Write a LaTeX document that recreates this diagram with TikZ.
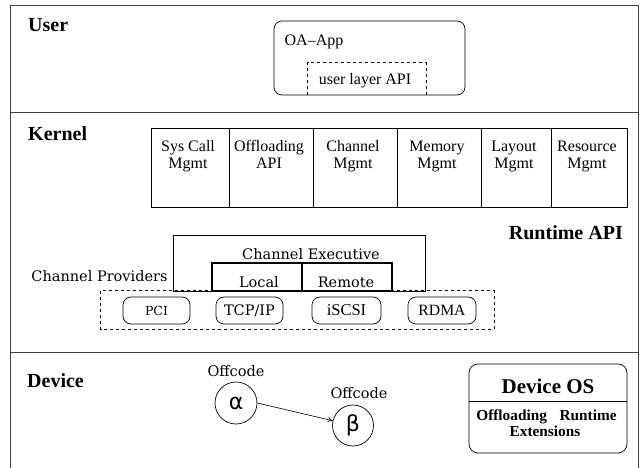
\documentclass[tikz,border=0pt]{standalone}
\usepackage{fontspec}
\setmainfont{Liberation Serif}
\newfontfamily\dvserif{DejaVu Serif}
\newfontfamily\dvsans{DejaVu Sans}
\usetikzlibrary{arrows.meta,calc}
\newcommand\fsz[1]{\fontsize{#1}{#1}\selectfont}
\begin{document}
\begin{tikzpicture}[x=1pt,y=-1pt,
  frameline/.style={draw=black!75, line width=0.9pt},
  sec/.style={font=\fsz{20}\bfseries, anchor=base west, inner sep=0pt},
  box/.style={draw, line width=0.7pt, inner sep=0pt},
  tim/.style={font=\fsz{16}, inner sep=0pt},
  dv/.style={font=\dvserif\fsz{14.5}, inner sep=0pt},
  pill/.style={draw, rounded corners=8pt, minimum height=27pt, inner sep=0pt, line width=0.7pt},
  circ/.style={draw, circle, inner sep=0pt, line width=0.7pt},
  arr/.style={-{To[length=5pt,width=5pt]}, line width=0.6pt}
]
\useasboundingbox (0,0) rectangle (643,468);

% frame
\coordinate (fbl) at (10.5,468);
\coordinate (ftl) at (10.5,5);
\coordinate (ftr) at (638,5);
\coordinate (fbr) at (638,468);
\coordinate (d1l) at (10.5,112);
\coordinate (d1r) at (638,112);
\coordinate (d2l) at (10.5,352);
\coordinate (d2r) at (638,352);
\draw[frameline] (fbl) -- (ftl) -- (ftr) -- (fbr);
\draw[frameline] (d1l) -- (d1r);
\draw[frameline] (d2l) -- (d2r);

% section labels
\node[sec] (user) at (28,32) {User};
\node[sec] (kernel) at (28,141) {Kernel};
\node[sec] (device) at (27,387) {Device};
\node[sec, anchor=base east] (rtapi) at (623,240) {Runtime API};

% user layer
\node[box, rounded corners=8pt, minimum width=191pt, minimum height=74pt] (oa) at (369.5,58) {};
\node[tim, anchor=base] (oatxt) at (314,46) {OA\textendash App};
\node[inner sep=0pt, minimum width=118pt, minimum height=32pt] (ula) at (367,79) {};
\draw[dashed, line width=0.7pt] (ula.south west) -- (ula.north west) -- (ula.north east) -- (ula.south east);
\node[tim, anchor=base] (ulatxt) at (365,85) {user layer API};

% kernel modules
\foreach \cx/\w/\ta/\tb [count=\i] in {190/78/Sys Call/Mgmt, 271/84/Offloading/API, 355/84/Channel/Mgmt, 439/84/Memory/Mgmt, 516/70/Layout/Mgmt, 589/76/Resource/Mgmt} {
  \node[box, minimum width=\w pt, minimum height=79pt] (k\i) at (\cx,167.5) {};
  \node[tim, anchor=base] (k\i a) at (\cx-2,152) {\ta};
  \node[tim, anchor=base] (k\i b) at (\cx-2,168) {\tb};
}

% channel executive
\node[box, minimum width=252pt, minimum height=56pt] (cexec) at (299,263) {};
\node[dv, anchor=base] (cextxt) at (311,259) {Channel Executive};
\node[draw, line width=1.3pt, inner sep=0pt, minimum width=90pt, minimum height=28pt] (local) at (257,277) {};
\node[draw, line width=1.3pt, inner sep=0pt, minimum width=90pt, minimum height=28pt] (remote) at (347,277) {};
\node[dv, anchor=base] (localtxt) at (259,287) {Local};
\node[dv, anchor=base] (remotetxt) at (346,287) {Remote};
\node[dv, anchor=base] (cprov) at (99.5,281) {Channel Providers};

% providers
\node[inner sep=0pt, minimum width=393pt, minimum height=38pt] (prov) at (297.5,310) {};
\draw[dashed, line width=0.7pt] (prov.north west) rectangle (prov.south east);
\node[pill, minimum width=67pt, font=\dvserif\fsz{12.5}] (pci) at (156.5,310.5) {PCI};
\node[pill, minimum width=67pt, font=\dvserif\fsz{14.5}] (tcp) at (249.5,310.5) {TCP/IP};
\node[pill, minimum width=69pt, font=\fsz{16.5}] (iscsi) at (346.5,310.5) {iSCSI};
\node[pill, minimum width=68pt, font=\fsz{15.7}] (rdma) at (442,310.5) {RDMA};

% device layer
\node[dv, anchor=base] (off1) at (236,376) {Offcode};
\node[dv, anchor=base] (off2) at (359,398) {Offcode};
\node[circ, minimum size=42pt, font=\dvsans\fsz{22}] (alpha) at (236,403) {α};
\node[circ, minimum size=41pt, font=\dvsans\fsz{22}] (beta) at (353,425.5) {β};
\draw[arr] (alpha.east) -- (beta);

\node[box, rounded corners=9pt, minimum width=158pt, minimum height=89pt] (dos) at (548,408.5) {};
\draw[line width=0.7pt] ($(dos.north west)+(0,38)$) -- ($(dos.north east)+(0,38)$);
\node[font=\fsz{21}\bfseries, inner sep=0pt, anchor=base] (dostxt) at (548,393) {Device OS};
\node[font=\fsz{15.3}\bfseries, inner sep=0pt, anchor=base] (dosl1) at (546.5,420) {Offloading\hskip 12.7pt Runtime};
\node[font=\fsz{15.3}\bfseries, inner sep=0pt, anchor=base] (dosl2) at (545,436.5) {Extensions};
\end{tikzpicture}
\end{document}
